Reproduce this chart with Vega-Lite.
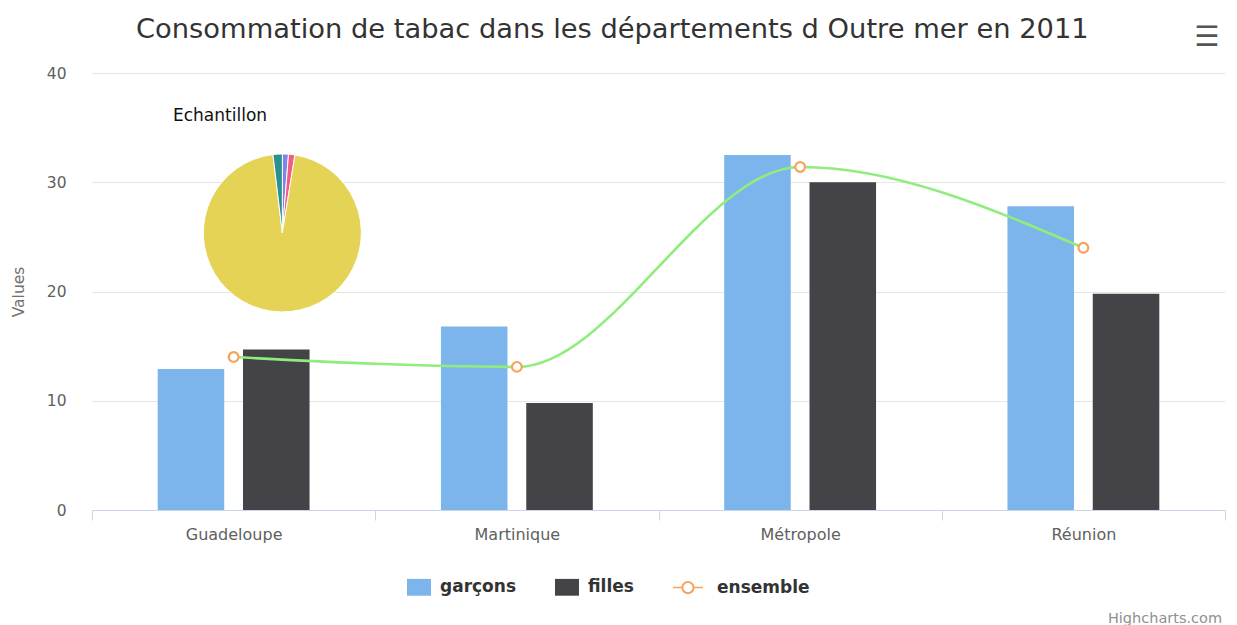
{
  "$schema": "https://vega.github.io/schema/vega-lite/v6.json",
  "width": 1133,
  "height": 437,
  "autosize": {"type": "none"},
  "padding": {"left": 92, "top": 73, "right": 12, "bottom": 115},
  "background": "white",
  "title": {
    "text": "Consommation de tabac dans les départements d Outre mer en 2011",
    "font": "DejaVu Sans",
    "fontSize": 27.3,
    "fontWeight": "normal",
    "color": "#333333",
    "anchor": "middle",
    "frame": "bounds",
    "offset": -20,
    "dx": -6
  },
  "config": {"view": {"stroke": null}, "font": "DejaVu Sans"},
  "datasets": {
    "tabac": [
      {"region": "Guadeloupe", "series": "garçons", "value": 12.9},
      {"region": "Guadeloupe", "series": "filles", "value": 14.7},
      {"region": "Guadeloupe", "series": "ensemble", "value": 14.0},
      {"region": "Martinique", "series": "garçons", "value": 16.8},
      {"region": "Martinique", "series": "filles", "value": 9.8},
      {"region": "Martinique", "series": "ensemble", "value": 13.1},
      {"region": "Métropole", "series": "garçons", "value": 32.5},
      {"region": "Métropole", "series": "filles", "value": 30.0},
      {"region": "Métropole", "series": "ensemble", "value": 31.4},
      {"region": "Réunion", "series": "garçons", "value": 27.8},
      {"region": "Réunion", "series": "filles", "value": 19.8},
      {"region": "Réunion", "series": "ensemble", "value": 24.0}
    ],
    "echantillon": [
      {"region": "Guadeloupe", "part": 1.25},
      {"region": "Martinique", "part": 1.3},
      {"region": "Métropole", "part": 95.55},
      {"region": "Réunion", "part": 1.9}
    ],
    "pieTitle": [{"label": "Echantillon"}],
    "credits": [{"label": "Highcharts.com"}],
    "menu": [{"label": "☰"}]
  },
  "resolve": {"scale": {"x": "independent", "y": "independent", "color": "independent"}},
  "layer": [
    {
      "data": {"name": "tabac"},
      "encoding": {
        "x": {
          "field": "region",
          "type": "nominal",
          "sort": ["Guadeloupe", "Martinique", "Métropole", "Réunion"],
          "scale": {"paddingInner": 0, "paddingOuter": 0},
          "title": null,
          "axis": {
            "domainColor": "#ccd6eb",
            "tickColor": "#ccd6eb",
            "tickSize": 10,
            "tickBand": "extent",
            "labelAngle": 0,
            "labelFont": "DejaVu Sans",
            "labelFontSize": 16,
            "labelColor": "#606060",
            "labelPadding": 6,
            "grid": false
          }
        },
        "y": {
          "field": "value",
          "type": "quantitative",
          "scale": {"domain": [0, 40], "nice": false},
          "title": "Values",
          "axis": {
            "values": [0, 10, 20, 30, 40],
            "grid": true,
            "gridColor": "#e6e6e6",
            "domain": false,
            "ticks": false,
            "labelPadding": 26,
            "labelFont": "DejaVu Sans",
            "labelFontSize": 15.5,
            "labelColor": "#606060",
            "titleFont": "DejaVu Sans",
            "titleFontSize": 15.5,
            "titleFontWeight": "normal",
            "titleColor": "#707070",
            "titlePadding": 20
          }
        }
      },
      "layer": [
        {
          "transform": [{"filter": "datum.series !== 'ensemble'"}],
          "mark": {"type": "bar"},
          "encoding": {
            "xOffset": {
              "field": "series",
              "type": "nominal",
              "sort": ["garçons", "filles"],
              "scale": {"paddingInner": 0.22, "paddingOuter": 0.77}
            },
            "color": {
              "field": "series",
              "type": "nominal",
              "scale": {
                "domain": ["garçons", "filles", "ensemble"],
                "range": ["#7cb5ec", "#434348", "#f7a35c"]
              },
              "legend": {
                "title": null,
                "orient": "none",
                "legendX": 315,
                "legendY": 502,
                "direction": "horizontal",
                "columns": 3,
                "labelFont": "DejaVu Sans",
                "labelFontSize": 17,
                "labelFontWeight": "bold",
                "labelColor": "#333333",
                "symbolSize": 576,
                "symbolStrokeWidth": 0,
                "labelOffset": 9,
                "columnPadding": 38,
                "encode": {
                  "symbols": {
                    "update": {
                      "shape": {"signal": "datum.value === 'ensemble' ? 'M-0.12,0A0.55,0.55,0,1,1,-1.22,0A0.55,0.55,0,1,1,-0.12,0ZM-0.29,0A0.38,0.38,0,1,0,-1.05,0A0.38,0.38,0,1,0,-0.29,0ZM-1.92,-0.07H-1.22V0.07H-1.92ZM-0.12,-0.07H0.58V0.07H-0.12Z' : 'M-1,-0.7H1V0.7H-1Z'"},
                      "strokeWidth": {"value": 0},
                      "opacity": {"value": 1}
                    }
                  }
                }
              }
            }
          }
        },
        {
          "transform": [{"filter": "datum.series === 'ensemble'"}],
          "mark": {"type": "line", "interpolate": "monotone", "color": "#90ed7d", "strokeWidth": 2.6},
          "encoding": {}
        },
        {
          "transform": [{"filter": "datum.series === 'ensemble'"}],
          "mark": {"type": "point", "shape": "circle", "filled": false, "fill": "#ffffff", "size": 95, "strokeWidth": 2.2, "opacity": 1},
          "encoding": {
            "color": {"field": "series", "type": "nominal"}
          }
        }
      ]
    },
    {
      "data": {"name": "echantillon"},
      "mark": {"type": "arc", "outerRadius": 79, "stroke": "#ffffff", "strokeWidth": 1},
      "encoding": {
        "x": {"datum": 0.168, "type": "quantitative", "scale": {"domain": [0, 1]}, "axis": null},
        "y": {"datum": 0.634, "type": "quantitative", "scale": {"domain": [0, 1]}, "axis": null},
        "theta": {"field": "part", "type": "quantitative", "stack": true},
        "color": {
          "field": "region",
          "type": "nominal",
          "scale": {
            "domain": ["Guadeloupe", "Martinique", "Métropole", "Réunion"],
            "range": ["#8085e9", "#f15c80", "#e4d354", "#2b908f"]
          },
          "legend": null
        }
      }
    },
    {
      "data": {"name": "pieTitle"},
      "mark": {"type": "text", "align": "center", "baseline": "middle", "font": "DejaVu Sans", "fontSize": 17, "color": "#111111"},
      "encoding": {
        "x": {"datum": 0.113, "type": "quantitative", "scale": {"domain": [0, 1]}, "axis": null},
        "y": {"datum": 0.902, "type": "quantitative", "scale": {"domain": [0, 1]}, "axis": null},
        "text": {"field": "label"}
      }
    },
    {
      "data": {"name": "credits"},
      "mark": {"type": "text", "align": "right", "baseline": "middle", "font": "DejaVu Sans", "fontSize": 14.5, "color": "#909090"},
      "encoding": {
        "x": {"datum": 0.9974, "type": "quantitative", "scale": {"domain": [0, 1]}, "axis": null},
        "y": {"datum": -0.249, "type": "quantitative", "scale": {"domain": [0, 1]}, "axis": null},
        "text": {"field": "label"}
      }
    },
    {
      "data": {"name": "menu"},
      "mark": {"type": "text", "align": "center", "baseline": "middle", "font": "DejaVu Sans", "fontSize": 28, "fontWeight": "bold", "color": "#555555"},
      "encoding": {
        "x": {"datum": 0.984, "type": "quantitative", "scale": {"domain": [0, 1]}, "axis": null},
        "y": {"datum": 1.081, "type": "quantitative", "scale": {"domain": [0, 1]}, "axis": null},
        "text": {"field": "label"}
      }
    }
  ]
}
